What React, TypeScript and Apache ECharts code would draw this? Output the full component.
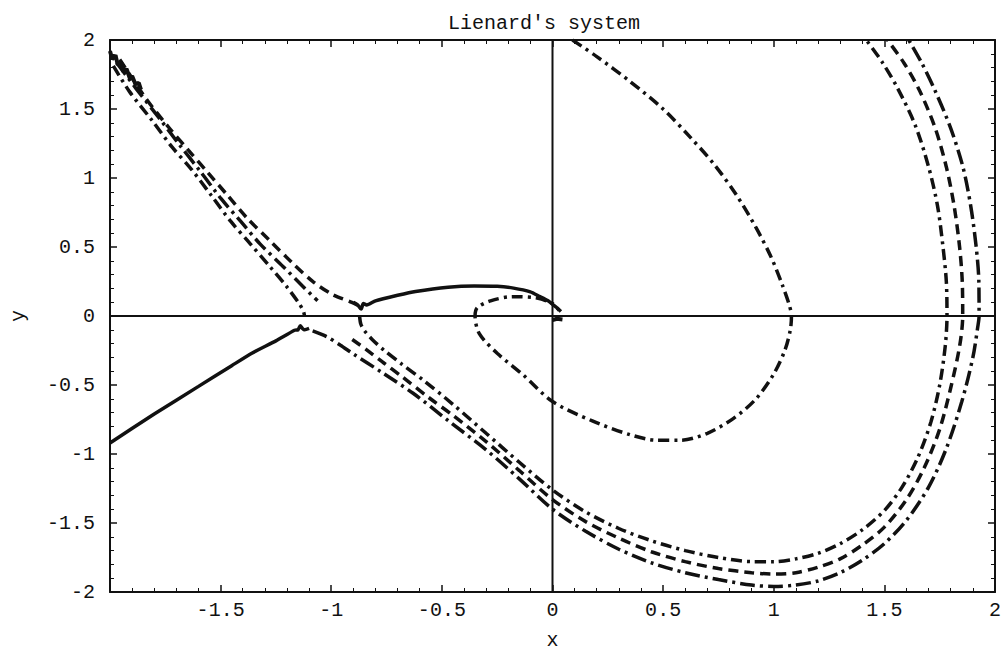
import React, { useEffect, useRef } from 'react';
import * as echarts from 'echarts';

// Phase portrait of Lienard's system: trajectories in the (x, y) plane.
const TITLE = "Lienard's system";
const X_LABELS = ['-1.5', '-1', '-0.5', '0', '0.5', '1', '1.5', '2'];
const Y_LABELS = ['-2', '-1.5', '-1', '-0.5', '0', '0.5', '1', '1.5', '2'];

// Upper-left branches (descending from the top-left corner)
const branchA: number[][] = [
  [-1.956, 1.859], [-1.838, 1.577], [-1.734, 1.366], [-1.646, 1.202], [-1.557, 1.038],
  [-1.468, 0.873], [-1.38, 0.709], [-1.277, 0.545], [-1.173, 0.38], [-1.084, 0.251],
  [-0.996, 0.157], [-0.907, 0.099], [-0.863, 0.063],
];
const branchB: number[][] = [
  [-1.97, 1.836], [-1.882, 1.648], [-1.779, 1.437], [-1.69, 1.249], [-1.587, 1.038],
  [-1.498, 0.85], [-1.409, 0.685], [-1.321, 0.521], [-1.217, 0.357], [-1.129, 0.216],
  [-1.062, 0.11],
];
const branchC: number[][] = [
  [-1.985, 1.812], [-1.911, 1.624], [-1.808, 1.413], [-1.72, 1.225], [-1.631, 1.061],
  [-1.542, 0.873], [-1.454, 0.685], [-1.365, 0.521], [-1.277, 0.357], [-1.203, 0.216],
  [-1.144, 0.087], [-1.125, 0.03], [-1.121, 0.0],
];

// Large outer orbits sweeping below the origin and up the right-hand side
const orbitInner: number[][] = [
  [-0.872, 0.0], [-0.866, -0.06], [-0.848, -0.11], [-0.815, -0.17], [-0.76, -0.25],
  [-0.68, -0.35], [-0.58, -0.47], [-0.45, -0.64], [-0.3, -0.85], [-0.15, -1.06],
  [0, -1.26], [0.15, -1.42], [0.3, -1.54], [0.45, -1.63], [0.6, -1.7], [0.75, -1.75],
  [0.9, -1.78], [1.0, -1.78], [1.1, -1.76], [1.2, -1.72], [1.3, -1.65], [1.4, -1.55],
  [1.5, -1.41], [1.58, -1.24], [1.65, -1.03], [1.71, -0.77], [1.75, -0.5], [1.775, -0.22],
  [1.783, 0], [1.78, 0.25], [1.765, 0.5], [1.74, 0.8], [1.7, 1.08], [1.64, 1.38],
  [1.56, 1.65], [1.49, 1.84], [1.418, 2.0],
];
const orbitMiddle: number[][] = [
  [-0.905, -0.17], [-0.84, -0.245], [-0.767, -0.335], [-0.68, -0.44], [-0.56, -0.59],
  [-0.45, -0.72], [-0.3, -0.91], [-0.15, -1.12], [0, -1.33], [0.15, -1.49], [0.3, -1.61],
  [0.45, -1.71], [0.6, -1.78], [0.75, -1.83], [0.9, -1.86], [1.0, -1.87], [1.1, -1.86],
  [1.2, -1.82], [1.3, -1.76], [1.4, -1.66], [1.5, -1.53], [1.6, -1.33], [1.68, -1.1],
  [1.75, -0.82], [1.8, -0.52], [1.84, -0.22], [1.854, 0], [1.852, 0.25], [1.84, 0.5],
  [1.815, 0.8], [1.78, 1.08], [1.73, 1.36], [1.66, 1.63], [1.59, 1.83], [1.514, 2.0],
];
const orbitOuter: number[][] = [
  [-1.084, -0.108], [-1.02, -0.15], [-0.96, -0.21], [-0.9, -0.275], [-0.77, -0.41],
  [-0.63, -0.56], [-0.47, -0.76], [-0.3, -0.97], [-0.15, -1.18], [0, -1.4], [0.15, -1.56],
  [0.3, -1.69], [0.45, -1.79], [0.6, -1.86], [0.75, -1.91], [0.9, -1.95], [1.0, -1.96],
  [1.1, -1.95], [1.2, -1.92], [1.3, -1.86], [1.4, -1.77], [1.5, -1.65], [1.6, -1.48],
  [1.7, -1.24], [1.78, -0.96], [1.85, -0.62], [1.9, -0.3], [1.922, -0.08], [1.928, 0],
  [1.927, 0.25], [1.915, 0.5], [1.89, 0.8], [1.855, 1.08], [1.8, 1.36], [1.73, 1.63],
  [1.67, 1.83], [1.61, 2.0],
];

// Smaller orbit around the origin
const innerLoop: number[][] = [
  [0.09, 2.0], [0.2, 1.88], [0.35, 1.7], [0.5, 1.5], [0.62, 1.3], [0.73, 1.1],
  [0.83, 0.88], [0.92, 0.64], [0.99, 0.42], [1.04, 0.22], [1.07, 0.08], [1.08, 0.0],
  [1.075, -0.1], [1.05, -0.25], [1.0, -0.42], [0.92, -0.6], [0.82, -0.74], [0.7, -0.85],
  [0.58, -0.9], [0.47, -0.9], [0.35, -0.86], [0.18, -0.76], [0, -0.62], [-0.13, -0.43],
  [-0.25, -0.27], [-0.33, -0.13], [-0.35, 0.0], [-0.34, 0.06], [-0.28, 0.11],
  [-0.18, 0.14], [-0.07, 0.13], [0.0, 0.09], [0.03, 0.04],
];

// Solid arcs (slow manifold pieces)
const solidLeft: number[][] = [
  [-2, -0.92], [-1.8, -0.71], [-1.6, -0.51], [-1.45, -0.36], [-1.357, -0.268],
  [-1.25, -0.18], [-1.166, -0.103], [-1.15, -0.1], [-1.14, -0.07], [-1.13, -0.09],
  [-1.12, -0.1], [-1.1, -0.09],
];
const solidMiddle: number[][] = [
  [-0.9, 0.1], [-0.88, 0.08], [-0.865, 0.05], [-0.855, 0.09], [-0.84, 0.08],
  [-0.8, 0.11], [-0.7, 0.15], [-0.619, 0.178], [-0.472, 0.209], [-0.354, 0.218],
  [-0.25, 0.215], [-0.176, 0.202], [-0.1, 0.175], [-0.06, 0.143], [-0.02, 0.11],
  [0, 0.085], [0.02, 0.06], [0.038, 0.033],
];
const originBlob: number[][] = [[0.0, -0.03], [0.02, -0.02], [0.045, -0.025]];
const cornerJitter: number[][] = [
  [-2, 1.92], [-1.99, 1.86], [-1.975, 1.89], [-1.965, 1.82], [-1.95, 1.84], [-1.94, 1.77],
  [-1.925, 1.79], [-1.91, 1.72], [-1.9, 1.74], [-1.885, 1.68], [-1.87, 1.69], [-1.86, 1.64],
];

// Coordinate axes through the origin
const xAxisLine: number[][] = [[-2, 0], [2, 0]];
const yAxisLine: number[][] = [[0, -2], [0, 2]];

const FONT = "'Liberation Mono', 'Courier New', monospace";
const INK = '#111';

const DASH = [10, 6];
const DASH_DOT = [11, 5, 3, 5];
const LONG_DASH_DOT = [15, 5, 3, 5];

function curve(data: number[][], type: any, width = 3.5, smooth: number | boolean = 0.3) {
  return {
    type: 'line',
    data,
    showSymbol: false,
    symbol: 'none',
    smooth,
    silent: true,
    lineStyle: { color: INK, width, type, cap: 'butt' },
  };
}

function frameAxis(position: string, isX: boolean, showLabels: boolean, labels: string[]) {
  return {
    type: 'value',
    position,
    min: -2,
    max: 2,
    interval: 0.5,
    axisLine: { show: true, onZero: false, lineStyle: { color: INK, width: 2 } },
    axisTick: { show: true, inside: true, length: 7, lineStyle: { color: INK, width: 1.5 } },
    minorTick: { show: true, splitNumber: 5, length: 4, lineStyle: { color: INK, width: 1 } },
    splitLine: { show: false },
    minorSplitLine: { show: false },
    axisLabel: {
      show: showLabels,
      margin: isX ? 8 : 15,
      color: INK,
      fontFamily: FONT,
      fontSize: 20,
      formatter: (v: number) => {
        const s = String(Math.round(v * 10) / 10);
        return labels.includes(s) ? s : '';
      },
    },
  };
}

export default function App() {
  const ref = useRef<HTMLDivElement>(null);

  useEffect(() => {
    if (!ref.current) return;
    const chart = echarts.init(ref.current, undefined, { renderer: 'svg' });
    chart.setOption({
      animation: false,
      backgroundColor: '#fff',
      title: {
        text: TITLE,
        left: 443,
        top: 8,
        textStyle: { fontFamily: FONT, fontSize: 20, fontWeight: 'normal', color: INK },
      },
      grid: { left: 95, right: 6, top: 40, bottom: 49, containLabel: false },
      xAxis: [
        {
          ...frameAxis('bottom', true, true, X_LABELS),
          name: 'x',
          nameLocation: 'middle',
          nameGap: 38,
          nameTextStyle: { fontFamily: FONT, fontSize: 20, color: INK },
        },
        frameAxis('top', true, false, X_LABELS),
      ],
      yAxis: [
        {
          ...frameAxis('left', false, true, Y_LABELS),
          name: 'y',
          nameLocation: 'middle',
          nameGap: 82,
          nameRotate: 90,
          nameTextStyle: { fontFamily: FONT, fontSize: 20, color: INK },
        },
        frameAxis('right', false, false, Y_LABELS),
      ],
      series: [
        curve(xAxisLine, 'solid', 2, false),
        curve(yAxisLine, 'solid', 2, false),
        curve(branchA, DASH),
        curve(branchB, LONG_DASH_DOT),
        curve(branchC, DASH_DOT),
        curve(orbitInner, DASH_DOT),
        curve(orbitMiddle, DASH),
        curve(orbitOuter, LONG_DASH_DOT),
        curve(innerLoop, DASH_DOT),
        curve(solidLeft, 'solid', 3.5, 0.2),
        curve(solidMiddle, 'solid', 3.5, 0.2),
        curve(originBlob, 'solid', 4, false),
        curve(cornerJitter, 'solid', 4, false),
      ],
    });
    return () => chart.dispose();
  }, []);

  return (
    <div
      ref={ref}
      style={{ position: 'fixed', left: 0, top: 0, width: 1004, height: 655, background: '#fff' }}
    />
  );
}
